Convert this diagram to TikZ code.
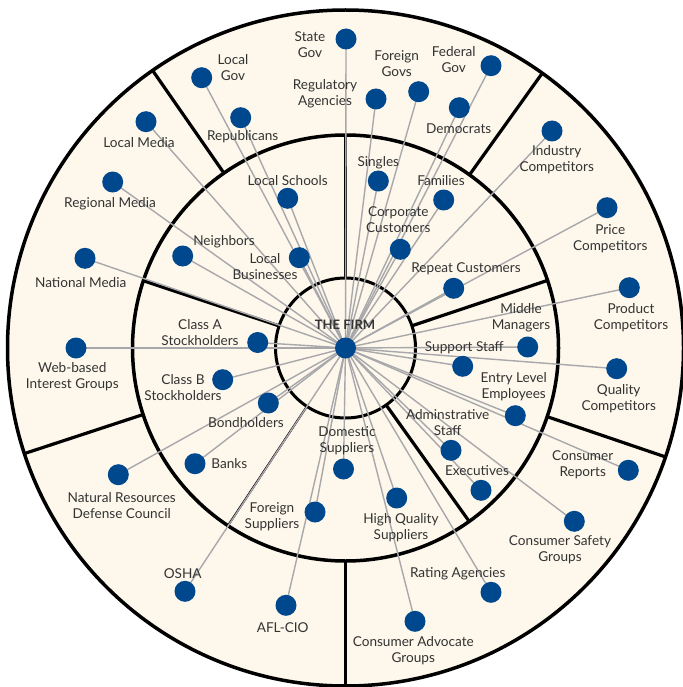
\documentclass[tikz,border=0pt]{standalone}
\usepackage{fontspec}
\setmainfont{Lato}
\usepackage{tikz}
\usetikzlibrary{calc}
\definecolor{cream}{RGB}{253,248,235}
\definecolor{dotblue}{RGB}{0,72,142}
\definecolor{linkgray}{RGB}{168,168,172}
\definecolor{txtgray}{RGB}{51,51,51}
\pgfdeclarelayer{back}
\pgfdeclarelayer{links}
\pgfsetlayers{back,links,main}
\tikzset{
	ring/.style={line width=3.5pt, color=black},
	divider/.style={line width=3.2pt, color=black},
	dot/.style={circle, fill=dotblue, inner sep=0pt, minimum size=21pt},
	link/.style={line width=1.4pt, color=linkgray},
	lbl/.style={align=center, text=txtgray, inner sep=0pt, font=\fontsize{13.6}{16}\selectfont}
}

\begin{document}
\begin{tikzpicture}[x=1pt, y=-1pt]
			%%%%% START %%%%%
			\useasboundingbox (0, 0) rectangle (682, 687);
			\coordinate (c) at (345.5, 348);
			
			\begin{pgfonlayer}{back}
			% rings
			\draw[ring, fill=cream] (c) circle (338);
			\draw[ring] (c) circle (213);
			\draw[line width=3pt] (c) circle (70);
			
			% outer ring dividers
			\draw[divider] ($(c)+(-124.8:213)$) -- ($(c)+(-124.8:338)$);
			\draw[divider] ($(c)+(-54.4:213)$) -- ($(c)+(-54.4:338)$);
			\draw[divider] ($(c)+(18.8:213)$) -- ($(c)+(18.8:338)$);
			\draw[divider] ($(c)+(90:213)$) -- ($(c)+(90:338)$);
			\draw[divider] ($(c)+(161.8:213)$) -- ($(c)+(161.8:338)$);
			
			% middle ring dividers
			\draw[divider] ($(c)+(-90:70)$) -- ($(c)+(-90:213)$);
			\draw[divider] ($(c)+(-18.5:70)$) -- ($(c)+(-18.5:213)$);
			\draw[divider] ($(c)+(54.5:70)$) -- ($(c)+(54.5:213)$);
			\draw[divider, line width=2pt] ($(c)+(123.5:70)$) -- ($(c)+(123.5:213)$);
			\draw[divider] ($(c)+(-161.6:70)$) -- ($(c)+(-161.6:213)$);
			\end{pgfonlayer}
			
			% stakeholders
			\node[dot] (firm) at (c) {};
			\node[dot] (stategov) at (346, 39) {};
			\node[dot] (localgov) at (201.7, 77.7) {};
			\node[dot] (republicans) at (240.7, 117.7) {};
			\node[dot] (regagencies) at (376, 99) {};
			\node[dot] (foreigngovs) at (418.7, 91.7) {};
			\node[dot] (federalgov) at (491, 65.7) {};
			\node[dot] (democrats) at (459.3, 107.7) {};
			\node[dot] (localmedia) at (146, 121.7) {};
			\node[dot] (regionalmedia) at (112.7, 182) {};
			\node[dot] (nationalmedia) at (85, 258.3) {};
			\node[dot] (webgroups) at (76, 348) {};
			\node[dot] (localschools) at (287.7, 198.3) {};
			\node[dot] (neighbors) at (182.7, 256) {};
			\node[dot] (localbiz) at (299.3, 257.7) {};
			\node[dot] (singles) at (378.3, 181) {};
			\node[dot] (families) at (443.7, 200) {};
			\node[dot] (corporate) at (400.3, 249.3) {};
			\node[dot] (repeat) at (453.7, 288.3) {};
			\node[dot] (industry) at (552, 131) {};
			\node[dot] (price) at (607, 207.7) {};
			\node[dot] (product) at (629.3, 287.7) {};
			\node[dot] (middlemgr) at (527.7, 347) {};
			\node[dot] (supportstaff) at (462.7, 366.3) {};
			\node[dot] (quality) at (616.7, 368.7) {};
			\node[dot] (entrylevel) at (515.3, 415.7) {};
			\node[dot] (adminstaff) at (451, 450.3) {};
			\node[dot] (executives) at (481, 490.3) {};
			\node[dot] (consreports) at (628.3, 470.3) {};
			\node[dot] (conssafety) at (574.3, 521.3) {};
			\node[dot] (hqsuppliers) at (396.7, 498) {};
			\node[dot] (rating) at (491, 592.3) {};
			\node[dot] (consadvocate) at (415, 621.3) {};
			\node[dot] (domsuppliers) at (343.5, 469) {};
			\node[dot] (forsuppliers) at (315, 512) {};
			\node[dot] (aflcio) at (286, 605.3) {};
			\node[dot] (osha) at (185, 591.3) {};
			\node[dot] (nrdc) at (118.3, 474.7) {};
			\node[dot] (banks) at (195, 463.7) {};
			\node[dot] (bondholders) at (268.3, 403) {};
			\node[dot] (classb) at (222.7, 379.7) {};
			\node[dot] (classa) at (257.7, 342.5) {};
			
			% links
			\begin{pgfonlayer}{links}
			\foreach \s in {stategov, localgov, republicans, regagencies, foreigngovs, federalgov, democrats,
				localmedia, regionalmedia, nationalmedia, webgroups, localschools, neighbors, localbiz,
				singles, families, corporate, repeat, industry, price, product, middlemgr, supportstaff,
				quality, entrylevel, adminstaff, executives, consreports, conssafety, hqsuppliers, rating,
				consadvocate, domsuppliers, forsuppliers, aflcio, osha, nrdc, banks, bondholders, classb, classa}
				\draw[link] (firm.center) -- (\s.center);
			\end{pgfonlayer}
			
			% labels
			\node[lbl, font=\fontsize{13}{16}\selectfont\bfseries] (firm-l) at (345, 324.3) {THE FIRM};
			\node[lbl] (stategov-l) at (310, 44.5) {State\\Gov};
			\node[lbl] (localgov-l) at (233, 68) {Local\\Gov};
			\node[lbl] (republicans-l) at (242.7, 136.7) {Republicans};
			\node[lbl] (regagencies-l) at (325, 93.5) {Regulatory\\Agencies};
			\node[lbl] (foreigngovs-l) at (396.7, 63.7) {Foreign\\Govs};
			\node[lbl] (federalgov-l) at (453.7, 59.7) {Federal\\Gov};
			\node[lbl] (democrats-l) at (458.7, 128.3) {Democrats};
			\node[lbl] (localmedia-l) at (139, 142.7) {Local Media};
			\node[lbl] (regionalmedia-l) at (110, 203.3) {Regional Media};
			\node[lbl] (nationalmedia-l) at (80.7, 282.7) {National Media};
			\node[lbl] (webgroups-l) at (72.3, 376.7) {Web-based\\Interest Groups};
			\node[lbl] (localschools-l) at (287.7, 180.7) {Local Schools};
			\node[lbl] (neighbors-l) at (224, 241.3) {Neighbors};
			\node[lbl] (localbiz-l) at (265, 266.7) {Local\\Businesses};
			\node[lbl] (singles-l) at (378.3, 162.3) {Singles};
			\node[lbl] (families-l) at (441, 180.7) {Families};
			\node[lbl] (corporate-l) at (398.3, 219.8) {Corporate\\Customers};
			\node[lbl] (repeat-l) at (466, 268.7) {Repeat Customers};
			\node[lbl] (industry-l) at (556.7, 159.7) {Industry\\Competitors};
			\node[lbl] (price-l) at (610.3, 238.3) {Price\\Competitors};
			\node[lbl] (product-l) at (631, 317.5) {Product\\Competitors};
			\node[lbl] (middlemgr-l) at (521, 317.5) {Middle\\Managers};
			\node[lbl] (supportstaff-l) at (464.3, 348) {Support Staff};
			\node[lbl] (quality-l) at (618.7, 398.5) {Quality\\Competitors};
			\node[lbl] (entrylevel-l) at (513.7, 386.7) {Entry Level\\Employees};
			\node[lbl] (adminstaff-l) at (447.7, 422.5) {Adminstrative\\Staff};
			\node[lbl] (executives-l) at (477, 470.7) {Executives};
			\node[lbl] (consreports-l) at (582.7, 465) {Consumer\\Reports};
			\node[lbl] (conssafety-l) at (560, 550) {Consumer Safety\\Groups};
			\node[lbl] (hqsuppliers-l) at (401, 527.7) {High Quality\\Suppliers};
			\node[lbl] (rating-l) at (457.7, 573.7) {Rating Agencies};
			\node[lbl] (consadvocate-l) at (413.3, 651) {Consumer Advocate\\Groups};
			\node[lbl] (domsuppliers-l) at (347, 440.5) {Domestic\\Suppliers};
			\node[lbl] (forsuppliers-l) at (272, 516.7) {Foreign\\Suppliers};
			\node[lbl] (aflcio-l) at (282.7, 628) {AFL-CIO};
			\node[lbl] (osha-l) at (182.7, 573.7) {OSHA};
			\node[lbl] (nrdc-l) at (121.7, 505.7) {Natural Resources\\Defense Council};
			\node[lbl] (banks-l) at (229.3, 463.7) {Banks};
			\node[lbl] (bondholders-l) at (246, 422.3) {Bondholders};
			\node[lbl] (classb-l) at (183, 387.5) {Class B\\Stockholders};
			\node[lbl] (classa-l) at (200, 333) {Class A\\Stockholders};
			%%%%% END %%%%%
\end{tikzpicture}
\end{document}
